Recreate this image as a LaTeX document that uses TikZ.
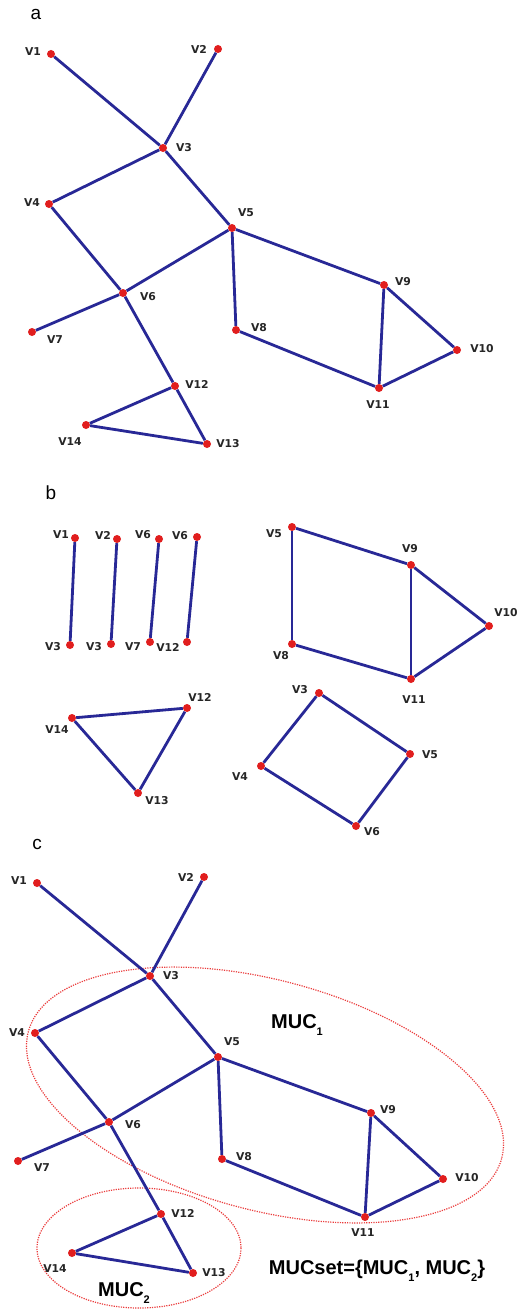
\documentclass[tikz,border=0pt]{standalone}
\usepackage{fontspec}
\setmainfont{Liberation Sans}
\newfontfamily\vfont{DejaVu Sans}
\definecolor{edgeblue}{RGB}{40,40,150}
\definecolor{dotred}{RGB}{225,30,30}
\definecolor{muccol}{RGB}{235,60,60}
\begin{document}
\begin{tikzpicture}[x=1pt,y=-1pt,
 dot/.style={circle,fill=dotred,inner sep=0pt,minimum size=8pt},
 lbl/.style={font=\vfont\bfseries\fontsize{10.8}{12}\selectfont,inner sep=0pt,text=black!85},
 link/.style={draw=edgeblue,line width=2.8pt},
 panel/.style={font=\fontsize{19}{22}\selectfont,inner sep=0pt},
 mucline/.style={draw=muccol,line width=1.2pt,dash pattern=on 1.2pt off 1.2pt},
 big/.style={font=\bfseries\fontsize{20}{24}\selectfont,inner sep=0pt}]
\fill[white] (0,0) rectangle (519,1311);
\useasboundingbox (0,0) rectangle (519,1311);

% ---------- panel a ----------
\node[panel] (pa) at (36,14) {a};
\foreach \n/\x/\y/\lx/\ly/\t in {
 1/51/54/33/52/V1, 2/218/49/199/49/V2, 3/163/148/184/148/V3, 4/49/204/32/203/V4,
 5/232/228/246/213/V5, 6/123/293/148/297/V6, 7/32/332/55/340/V7, 8/236/330/259/328/V8,
 9/384/285/403/282/V9, 10/457/350/482/349/V10, 11/379/388/378/405/V11,
 12/175/386/197/384/V12, 13/207/444/228/444/V13, 14/86/425/70/442/V14}{
 \node[dot] (a\n) at (\x,\y) {};
 \node[lbl] (a\n l) at (\lx,\ly) {\t};
}
\foreach \u/\v in {1/3,2/3,3/4,3/5,4/6,5/6,6/7,5/8,5/9,8/11,9/11,9/10,10/11,6/12,12/14,12/13,14/13}
 \draw[link] (a\u) -- (a\v);

% ---------- panel b ----------
\node[panel] (pb) at (51,493) {b};
\foreach \n/\x/\y/\lx/\ly/\t in {
 1/75/538/61/535/V1, 2/117/539/103/535/V2, 3/159/539/143/535/V6, 4/197/537/180/536/V6}{
 \node[dot] (bp\n) at (\x,\y) {};
 \node[lbl] (bp\n l) at (\lx,\ly) {\t};
}
\foreach \n/\x/\y/\lx/\ly/\t in {
 1/70/645/53/647/V3, 2/111/644/94/647/V3, 3/150/642/133/647/V7, 4/187/642/168/647/V12}{
 \node[dot] (bq\n) at (\x,\y) {};
 \node[lbl] (bq\n l) at (\lx,\ly) {\t};
}
\foreach \n in {1,2,3,4} \draw[link] (bp\n) -- (bq\n);

\foreach \n/\x/\y/\lx/\ly/\t in {
 5/292/527/274/534/V5, 9/411/565/410/549/V9, 10/489/626/506/613/V10,
 8/292/644/281/656/V8, 11/411/679/414/700/V11}{
 \node[dot] (b\n) at (\x,\y) {};
 \node[lbl] (b\n l) at (\lx,\ly) {\t};
}
\foreach \u/\v in {5/9,5/8,8/11,9/11,9/10,10/11} \draw[link] (b\u) -- (b\v);

\foreach \n/\x/\y/\lx/\ly/\t in {
 12/187/708/200/697/V12, 14/72/718/57/730/V14, 13/138/793/157/801/V13}{
 \node[dot] (t\n) at (\x,\y) {};
 \node[lbl] (t\n l) at (\lx,\ly) {\t};
}
\foreach \u/\v in {12/14,14/13,13/12} \draw[link] (t\u) -- (t\v);

\foreach \n/\x/\y/\lx/\ly/\t in {
 3/319/693/300/690/V3, 5/410/754/430/755/V5, 4/261/766/240/777/V4, 6/356/826/372/832/V6}{
 \node[dot] (s\n) at (\x,\y) {};
 \node[lbl] (s\n l) at (\lx,\ly) {\t};
}
\foreach \u/\v in {3/5,5/6,6/4,4/3} \draw[link] (s\u) -- (s\v);

% ---------- panel c ----------
\node[panel] (pc) at (37,844) {c};
\draw[mucline] (265,1095) ellipse [x radius=245, y radius=115, rotate=-15];
\draw[mucline] (139,1248) ellipse [x radius=102, y radius=60];
\foreach \n/\x/\y/\lx/\ly/\t in {
 1/37/883/19/881/V1, 2/204/877/186/877/V2, 3/150/976/171/976/V3, 4/35/1033/17/1033/V4,
 5/218/1057/232/1042/V5, 6/109/1122/133/1125/V6, 7/18/1161/42/1168/V7, 8/222/1159/244/1157/V8,
 9/371/1113/388/1110/V9, 10/443/1179/467/1178/V10, 11/365/1217/363/1233/V11,
 12/161/1214/183/1213/V12, 13/193/1273/214/1273/V13, 14/72/1253/55/1269/V14}{
 \node[dot] (c\n) at (\x,\y) {};
 \node[lbl] (c\n l) at (\lx,\ly) {\t};
}
\foreach \u/\v in {1/3,2/3,3/4,3/5,4/6,5/6,6/7,5/8,5/9,8/11,9/11,9/10,10/11,6/12,12/14,12/13,14/13}
 \draw[link] (c\u) -- (c\v);

\node[big] (muc1) at (297,1025) {MUC\raisebox{-0.35em}{\fontsize{11}{12}\selectfont 1}};
\node[big] (muc2) at (124,1293) {MUC\raisebox{-0.35em}{\fontsize{11}{12}\selectfont 2}};
\node[big] (mucset) at (377,1271) {MUCset=\{MUC\raisebox{-0.35em}{\fontsize{11}{12}\selectfont 1}, MUC\raisebox{-0.35em}{\fontsize{11}{12}\selectfont 2}\}};
\end{tikzpicture}
\end{document}
